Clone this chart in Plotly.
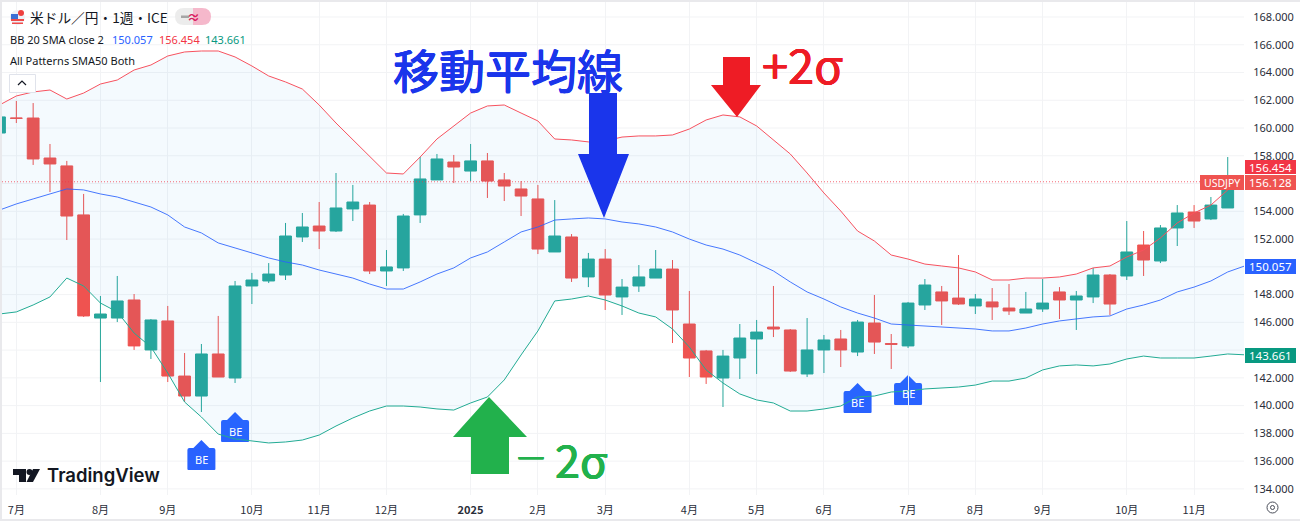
import plotly.graph_objects as go

# ---------- data ----------
opens = [159.64,160.72,160.72,157.84,157.27,153.74,146.31,146.31,147.61,144.01,146.10,142.13,140.69,143.72,141.99,148.62,148.98,149.41,152.15,152.94,
         152.58,154.17,154.45,149.70,149.92,153.74,156.26,157.55,156.90,157.63,156.26,155.61,154.89,151.07,152.15,149.27,150.56,147.83,148.62,149.19,
         149.84,145.88,143.94,141.99,143.43,144.80,145.66,145.45,142.28,144.01,144.80,143.86,145.95,144.47,144.30,147.25,148.19,147.75,147.18,147.47,
         147.03,146.67,146.96,148.19,147.61,147.83,149.41,149.34,151.57,150.42,152.80,153.95,153.45,154.24]
highs = [160.90,161.95,161.80,158.85,157.63,155.25,147.90,149.34,148.04,146.24,147.18,143.79,144.44,146.46,148.98,149.56,150.27,153.16,153.88,154.67,
         156.76,155.90,154.67,151.21,153.81,157.91,158.13,158.06,158.85,158.20,156.76,156.18,155.90,154.81,152.36,151.00,151.28,149.12,150.13,151.21,
         150.49,148.26,144.01,144.01,145.88,146.17,148.62,145.52,146.31,145.09,145.45,146.17,147.97,145.16,147.47,149.12,148.62,150.85,148.04,148.47,
         148.76,148.19,149.12,148.54,148.26,149.92,149.48,153.30,152.58,153.01,154.45,154.45,155.03,157.91]
lows = [159.64,160.36,157.34,155.39,151.93,146.39,141.70,146.02,144.01,143.36,141.70,140.26,139.54,142.06,141.63,147.32,148.83,149.05,151.79,151.28,
        152.51,153.30,149.48,148.62,149.70,153.16,156.26,156.04,156.18,154.96,154.74,153.66,150.92,151.07,148.91,148.54,146.89,146.53,148.19,149.19,
        144.51,142.06,141.56,139.90,141.92,142.28,144.94,142.42,142.06,142.35,142.78,143.57,143.72,142.64,144.15,146.89,145.81,147.25,146.60,146.17,
        146.53,146.67,146.75,146.24,145.45,147.39,146.53,149.05,149.34,150.27,151.50,152.80,153.37,154.24]
closes = [160.80,160.70,157.77,157.41,153.66,146.46,146.60,147.54,144.30,146.17,142.13,140.69,143.72,142.06,148.62,149.05,149.48,152.22,152.87,152.58,
          154.24,154.67,149.70,149.99,153.66,156.33,157.77,157.19,157.63,156.18,155.82,155.10,151.28,152.22,149.19,150.56,147.97,148.54,149.27,149.84,
          146.89,143.43,142.06,143.57,144.87,145.30,145.52,142.49,144.01,144.73,144.01,146.02,144.58,144.42,147.39,148.69,147.54,147.32,147.68,147.11,
          146.82,146.96,147.39,147.61,147.90,149.41,147.32,151.07,150.49,152.80,153.88,153.30,154.45,156.128]
bb_upper = [161.66,162.31,162.60,162.74,162.09,162.52,163.17,163.46,164.18,164.54,165.19,165.48,165.55,165.55,165.12,164.47,163.75,163.32,162.81,161.66,
            160.36,159.14,157.91,156.76,156.69,157.91,159.21,160.15,161.08,161.59,161.66,161.08,160.51,159.21,159.14,159.00,159.07,159.35,159.43,159.43,
            159.50,159.93,160.58,160.94,160.80,160.15,159.14,158.13,156.76,155.32,154.02,152.58,151.86,150.85,150.56,150.20,150.06,149.92,149.63,149.05,
            149.05,149.19,149.19,149.27,149.48,149.92,150.06,150.71,151.21,152.08,153.16,153.88,154.45,155.54,156.454]
bb_basis = [154.09,154.53,154.89,155.25,155.61,155.54,155.25,155.03,154.67,154.31,153.74,152.87,152.44,151.72,151.36,151.00,150.64,150.35,150.13,149.77,
            149.48,149.19,148.76,148.40,148.40,148.91,149.48,149.92,150.64,151.07,151.79,152.51,152.87,153.37,153.45,153.52,153.45,153.23,153.09,152.87,
            152.51,152.00,151.57,151.28,150.85,150.27,149.70,148.91,148.19,147.68,147.11,146.67,146.31,145.88,145.81,145.74,145.66,145.59,145.52,145.38,
            145.38,145.59,145.88,146.10,146.24,146.39,146.46,146.96,147.25,147.61,148.19,148.54,148.98,149.63,150.057]
bb_lower = [146.60,146.75,147.25,147.83,149.19,148.62,147.39,146.75,145.23,144.22,142.35,140.26,139.18,137.95,137.60,137.45,137.31,137.38,137.52,137.88,
            138.53,139.11,139.61,139.97,139.97,139.90,139.76,139.68,140.19,140.62,141.85,143.65,145.38,147.54,147.68,147.90,147.61,147.18,146.67,146.39,
            145.52,144.22,142.57,141.63,140.84,140.41,140.19,139.61,139.61,139.76,139.97,140.62,140.69,140.98,141.05,141.20,141.27,141.34,141.48,141.77,
            141.77,141.99,142.57,142.86,142.93,142.86,143.00,143.36,143.57,143.43,143.43,143.43,143.57,143.72,143.661]
month_ticks = [1,6,10,15,19,23,28,32,36,41,45,49,54,58,62,67,71]
month_labels = ["7月","8月","9月","10月","11月","12月","<b>2025</b>","2月","3月","4月","5月","6月","7月","8月","9月","10月","11月"]
price_ticks = [134,136,138,140,142,146,148,152,154,158,160,162,164,166,168]
grid_prices = [134,136,138,140,142,144,146,148,150,152,154,156,158,160,162,164,166,168]
be_bars = [12,14,51,54]
be_prices = [136.15,138.17,140.26,140.84]
last_close = 156.128
upper_last = bb_upper[-1]
basis_last = bb_basis[-1]
lower_last = bb_lower[-1]

# ---------- geometry helpers ----------
L, R, T, B = 2, 1244, 2, 495
def X(p): return (p - L) / (R - L)
def Y(p): return (B - p) / (B - T)
def poly(pts, color, **kw):
    d = "M" + " L".join(f"{X(a):.5f},{Y(b):.5f}" for a, b in pts) + " Z"
    return dict(type="path", xref="paper", yref="paper", path=d, fillcolor=color, line=dict(width=0), layer="above", **kw)
def rect(x0, y0, x1, y1, color, **kw):
    return dict(type="rect", xref="paper", yref="paper", x0=X(x0), x1=X(x1), y0=Y(y0), y1=Y(y1),
                fillcolor=color, line=dict(width=0), layer="above", **kw)

SANS = "Noto Sans, Noto Sans CJK JP, sans-serif"
GRID = "#f2f3f5"
fig = go.Figure()
xs = list(range(len(bb_upper)))
fig.add_trace(go.Scatter(x=xs, y=bb_upper, mode="lines", line=dict(color="#f7525f", width=1), hoverinfo="skip"))
fig.add_trace(go.Scatter(x=xs, y=bb_lower, mode="lines", line=dict(color="#22ab94", width=1),
                         fill="tonexty", fillcolor="rgba(33,150,243,0.05)", hoverinfo="skip"))
fig.add_trace(go.Scatter(x=xs, y=bb_basis, mode="lines", line=dict(color="#2962ff", width=1), hoverinfo="skip", opacity=0.85))
fig.add_trace(go.Candlestick(x=list(range(len(opens))), open=opens, high=highs, low=lows, close=closes, whiskerwidth=0,
                             increasing=dict(line=dict(color="#26a69a", width=1), fillcolor="#26a69a"),
                             decreasing=dict(line=dict(color="#ef5350", width=1), fillcolor="#ef5350")))

shapes = []
ann = []
# horizontal grid (the 144/150/156 labels are hidden by price badges in the original)
for g in grid_prices:
    shapes.append(dict(type="line", xref="paper", yref="y", x0=0, x1=1, y0=g, y1=g, line=dict(color=GRID, width=1), layer="below"))
# BE flags (drawn under the band lines)
be_path = "M-14,-10 Q-14,-11 -13,-11 L13,-11 Q14,-11 14,-10 L14,9 Q14,11 12,11 L8,11 L0,19 L-8,11 L-12,11 Q-14,11 -14,9 Z"
for b, p in zip(be_bars, be_prices):
    shapes.append(dict(type="path", xsizemode="pixel", ysizemode="pixel", xref="x", yref="y", xanchor=b, yanchor=p,
                       path=be_path, fillcolor="#2962ff", line=dict(width=0), layer="below"))
    ann.append(dict(x=b, y=p, xref="x", yref="y", text="BE", showarrow=False, font=dict(family=SANS, size=11, color="white")))
# last-price dotted line
shapes.append(dict(type="line", xref="paper", yref="y", x0=0, x1=1, y0=last_close, y1=last_close,
                   line=dict(color="rgba(242,54,69,0.75)", width=1, dash="1px,2px"), layer="above"))
# big arrows
shapes.append(poly([(589,93),(617,93),(617,154),(629,154),(604,218),(578,154),(589,154)], "#1a35eb"))
shapes.append(poly([(723,57),(750,57),(750,85),(761,85),(737,117),(711,85),(723,85)], "#ee1c25"))
shapes.append(poly([(471,474),(509,474),(509,437),(527,437),(489,397),(453,437),(471,437)], "#22b14c"))
# price scale badges
shapes += [rect(1200,175,1244,190,"#ef5350"), rect(1245,160,1296,174,"#f23645"), rect(1245,175,1296,190,"#ef5350"),
           rect(1245,259,1296,274,"#2962ff"), rect(1245,348,1296,363,"#089981")]
# frame
shapes += [rect(0,0,1300,2,"#e9e9ec"), rect(0,0,2,521,"#e9e9ec"), rect(0,519,1300,521,"#e9e9ec")]
# header pill
shapes += [dict(type="path", xref="paper", yref="paper", layer="above", line=dict(width=0), fillcolor="#ececec",
                path=f"M{X(193):.5f},{Y(8):.5f} L{X(184):.5f},{Y(8):.5f} Q{X(175):.5f},{Y(8):.5f} {X(175):.5f},{Y(16.5):.5f} Q{X(175):.5f},{Y(25):.5f} {X(184):.5f},{Y(25):.5f} L{X(193):.5f},{Y(25):.5f} Z"),
           dict(type="path", xref="paper", yref="paper", layer="above", line=dict(width=0), fillcolor="#f5b8cb",
                path=f"M{X(193):.5f},{Y(8):.5f} L{X(202):.5f},{Y(8):.5f} Q{X(211):.5f},{Y(8):.5f} {X(211):.5f},{Y(16.5):.5f} Q{X(211):.5f},{Y(25):.5f} {X(202):.5f},{Y(25):.5f} L{X(193):.5f},{Y(25):.5f} Z"),
           rect(181,15.5,189,18,"#a5a5a5")]
# flag icon
shapes += [dict(type="circle", xref="paper", yref="paper", x0=X(10), x1=X(25), y0=Y(10), y1=Y(25), fillcolor="#eef0f6", line=dict(width=0), layer="above"),
           rect(11,14,18,19,"#3b6fd4"), rect(11,19,24,21,"#ef4a4a"), rect(12,22.5,23,24,"#ef4a4a"),
           dict(type="circle", xref="paper", yref="paper", x0=X(18), x1=X(24), y0=Y(10), y1=Y(16), fillcolor="#ee3f3f", line=dict(width=0), layer="above")]
# collapse button
shapes += [dict(type="rect", xref="paper", yref="paper", x0=X(9.5), x1=X(35.5), y0=Y(74.5), y1=Y(92.5), fillcolor="white",
                line=dict(color="#e0e3eb", width=1), layer="above"),
           dict(type="path", xref="paper", yref="paper", layer="above", line=dict(color="#131722", width=1.2),
                path=f"M{X(18):.5f},{Y(85):.5f} L{X(22):.5f},{Y(81):.5f} L{X(26):.5f},{Y(85):.5f}")]
# TradingView logo
shapes += [poly([(13,469),(26,469),(26,482),(19,482),(19,475),(13,475)], "#131722"),
           poly([(33,469),(40,469),(33,482),(26.5,482)], "#131722"),
           dict(type="circle", xref="paper", yref="paper", x0=X(26.5), x1=X(32.5), y0=Y(469), y1=Y(475), fillcolor="#131722", line=dict(width=0), layer="above")]
shapes.append(dict(type="circle", xref="paper", yref="paper", x0=X(1267), x1=X(1278), y0=Y(502), y1=Y(513), fillcolor="white",
                   line=dict(color="#4a4e59", width=1), layer="above"))
shapes.append(dict(type="circle", xref="paper", yref="paper", x0=X(1270.5), x1=X(1274.5), y0=Y(505.5), y1=Y(509.5), fillcolor="white",
                   line=dict(color="#4a4e59", width=1), layer="above"))

def text(px_x, px_y, s, size, color, anchor="left", family=SANS, weight=None, thick=0):
    f = dict(family=family, size=size, color=color)
    if weight:
        f["weight"] = weight
    if thick:
        f["shadow"] = f"{thick}px 0 0 {color}, -{thick}px 0 0 {color}, 0 {thick}px 0 {color}, 0 -{thick}px 0 {color}"
    ann.append(dict(xref="paper", yref="paper", x=X(px_x), y=Y(px_y), text=s, showarrow=False, xanchor=anchor, yanchor="middle", font=f))

CJK = "Noto Sans CJK JP, sans-serif"
text(28, 17, "米ドル／円・1週・ICE", 13.7, "#131722", family=CJK)
text(193, 16.5, "≈", 13, "#d81b60", anchor="center", weight=700)
text(8, 39, "BB 20 SMA close 2", 11, "#131722")
text(110, 39, f"{basis_last:.3f}", 11, "#2962ff")
text(157, 39, f"{upper_last:.3f}", 11, "#f23645")
text(203, 39, f"{lower_last:.3f}", 11, "#089981")
text(8, 60, "All Patterns SMA50 Both", 11, "#131722")
text(45, 475, "TradingView", 18.5, "#131722", family="Inter, Roboto, sans-serif", weight=600)
text(391, 68, "移動平均線", 46, "#1a35eb", family=CJK, thick=0.5)
text(760, 64, "+2σ", 47, "#ee1c25", family=CJK, thick=0.4)
text(512, 456, "－", 34, "#22b14c", family=CJK, thick=0.4)
text(553, 458, "2σ", 45, "#22b14c", family=CJK, thick=0.4)
text(1222, 182.5, "USDJPY", 10.5, "white", anchor="center")
text(1270.5, 167, f"{upper_last:.3f}", 11.5, "white", anchor="center")
text(1270.5, 182.5, f"{last_close:.3f}", 11.5, "white", anchor="center")
text(1270.5, 266.5, f"{basis_last:.3f}", 11.5, "white", anchor="center")
text(1270.5, 355.5, f"{lower_last:.3f}", 11.5, "white", anchor="center")

fig.update_layout(
    width=1300, height=521, autosize=False, showlegend=False,
    paper_bgcolor="white", plot_bgcolor="white",
    margin=dict(l=L, r=1300 - R, t=T, b=521 - B, pad=0),
    boxgap=0.3, boxgroupgap=0,
    shapes=shapes, annotations=ann,
    xaxis=dict(range=[(L + 0.5) / 16.825, (R + 0.5) / 16.825], tickvals=month_ticks, ticktext=month_labels,
               showgrid=True, gridcolor=GRID, gridwidth=1, zeroline=False, showline=False, ticks="outside", ticklen=5,
               tickcolor="rgba(0,0,0,0)", tickfont=dict(family=CJK, size=11, color="#2a2e39"), rangeslider=dict(visible=False), fixedrange=True),
    yaxis=dict(side="right", range=[133.56, 169.08], tickvals=price_ticks, tickformat=".3f", showgrid=False,
               zeroline=False, showline=False, ticks="outside", ticklen=6, tickcolor="rgba(0,0,0,0)",
               tickfont=dict(family=SANS, size=11, color="#2a2e39"), fixedrange=True),
)
fig.write_html("out.html", config=dict(displayModeBar=False), post_script="document.body.style.margin='0';")
